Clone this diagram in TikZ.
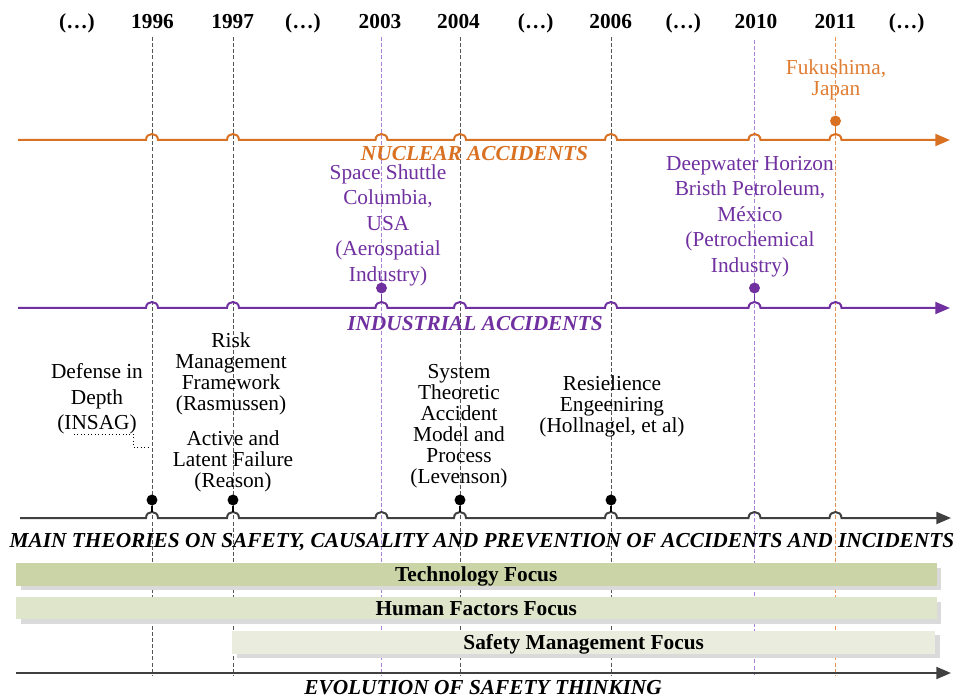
\documentclass[tikz,border=0pt]{standalone}
\usepackage{fontspec}
\setmainfont{Liberation Serif}
\usetikzlibrary{arrows.meta}
\definecolor{orng}{RGB}{217,113,35}
\definecolor{orngt}{RGB}{224,125,50}
\definecolor{orngl}{RGB}{232,145,85}
\definecolor{purp}{RGB}{112,48,160}
\definecolor{purpl}{RGB}{170,130,215}
\definecolor{dgray}{RGB}{64,64,64}
\definecolor{vgray}{RGB}{85,85,85}
\definecolor{barA}{RGB}{202,212,167}
\definecolor{barB}{RGB}{223,229,203}
\definecolor{barC}{RGB}{234,237,221}
\definecolor{shad}{RGB}{218,218,218}
\newcommand{\hp}[2]{-- ({#1-6},#2) .. controls ({#1-6},{#2-8}) and ({#1+6},{#2-8}) .. ({#1+6},#2)}
\tikzset{
  yrlab/.style={font=\fontsize{16}{19}\selectfont\bfseries, anchor=base, inner sep=0pt},
  vline/.style={line width=0.7pt, dash pattern=on 3pt off 1.6pt},
  axisline/.style={line width=1.5pt, -{Triangle[length=11pt,width=9pt]}},
  ttl/.style={font=\fontsize{16}{19}\selectfont\bfseries\itshape, anchor=base, inner sep=0pt},
  txtA/.style={font=\fontsize{16}{15.75}\selectfont, align=center, inner sep=0pt, anchor=center},
  txtB/.style={font=\fontsize{16}{19.1}\selectfont, align=center, inner sep=0pt, anchor=center},
  dotm/.style={circle, inner sep=0pt, minimum size=8.2pt},
  barlab/.style={font=\fontsize{16}{19}\selectfont\bfseries, inner sep=0pt, text height=11pt, text depth=0.8pt},
}
\begin{document}
\begin{tikzpicture}[x=0.75pt,y=-0.75pt]
\useasboundingbox (0,0) rectangle (957,695);
% year labels
\node[yrlab] (e1) at (77,28.5) {(…)};
\node[yrlab] (y96) at (152.5,28.5) {1996};
\node[yrlab] (y97) at (232.7,28.5) {1997};
\node[yrlab] (e2) at (303,28.5) {(…)};
\node[yrlab] (y03) at (380,28.5) {2003};
\node[yrlab] (y04) at (458.5,28.5) {2004};
\node[yrlab] (e3) at (535.7,28.5) {(…)};
\node[yrlab] (y06) at (610.7,28.5) {2006};
\node[yrlab] (e4) at (683.3,28.5) {(…)};
\node[yrlab] (y10) at (756,28.5) {2010};
\node[yrlab] (y11) at (835.3,28.5) {2011};
\node[yrlab] (e5) at (906.7,28.5) {(…)};
% vertical dashed lines
\foreach \n/\x/\t in {96/152/37,97/233/37,03/381.5/37,04/460/37,06/611/37,10/754.5/40,11/835.5/37}{
  \coordinate (t\n) at (\x,\t);
  \coordinate (b\n) at (\x,675);
}
\draw[vline, vgray] (t96) -- (b96);
\draw[vline, vgray] (t97) -- (b97);
\draw[vline, purpl] (t03) -- (b03);
\draw[vline, vgray] (t04) -- (b04);
\draw[vline, vgray] (t06) -- (b06);
\draw[vline, purpl] (t10) -- (b10);
\draw[vline, orngl] (t11) -- (b11);
% nuclear axis
\coordinate (nS) at (18,140);
\coordinate (nE) at (950,140);
\draw[axisline, orng] (nS) \hp{152}{140} \hp{233}{140} \hp{381.5}{140} \hp{460}{140} \hp{611}{140} \hp{754.5}{140} \hp{835.5}{140} -- (nE);
\node[ttl, text=orng] (nuc) at (474.5,161) {NUCLEAR ACCIDENTS};
\node[dotm, fill=orng] (dfuk) at (835.5,121) {};
\coordinate (hfuk) at (835.5,134);
\draw[line width=1pt, orng] (dfuk) -- (hfuk);
\node[txtA, text=orngt] (fuk) at (836,79.5) {Fukushima,\\Japan};
% industrial axis
\coordinate (iS) at (18,308);
\coordinate (iE) at (950,308);
\draw[axisline, purp] (iS) \hp{152}{308} \hp{233}{308} \hp{381.5}{308} \hp{460}{308} \hp{611}{308} \hp{754.5}{308} \hp{835.5}{308} -- (iE);
\node[ttl, text=purp] (ind) at (475,330.5) {INDUSTRIAL ACCIDENTS};
\node[dotm, fill=purp] (dcol) at (381.5,288) {};
\coordinate (hcol) at (381.5,302);
\draw[line width=1pt, purp] (dcol) -- (hcol);
\node[dotm, fill=purp] (ddw) at (754.5,288) {};
\coordinate (hdw) at (754.5,302);
\draw[line width=1pt, purp] (ddw) -- (hdw);
\node[txtB, text=purp] (col) at (388,225) {Space Shuttle\\Columbia,\\USA\\(Aerospatial\\Industry)};
\node[txtB, text=purp] (dw) at (750,216.5) {Deepwater Horizon\\Bristh Petroleum,\\México\\(Petrochemical\\Industry)};
% theories axis
\coordinate (tS) at (20,518);
\coordinate (tE) at (951,518);
\draw[axisline, dgray] (tS) \hp{152}{518} \hp{233}{518} \hp{381.5}{518} \hp{460}{518} \hp{611}{518} \hp{754.5}{518} \hp{835.5}{518} -- (tE);
\node[ttl] (main) at (482,547) {MAIN THEORIES ON SAFETY, CAUSALITY AND PREVENTION OF ACCIDENTS AND INCIDENTS};
\foreach \n/\x in {96/152,97/233,04/460,06/611}{
  \node[dotm, fill=black] (d\n) at (\x,500) {};
  \coordinate (h\n) at (\x,512);
  \draw[line width=1pt, black] (d\n) -- (h\n);
}
\node[txtB] (did) at (97,399) {Defense in\\Depth\\(INSAG)};
\coordinate (dA) at (74,434);
\coordinate (dB) at (150,447);
\draw[dotted, line width=0.6pt] (dA) -- (133,434) |- (dB);
\node[txtA] (rmf) at (231,374) {Risk\\Management\\Framework\\(Rasmussen)};
\node[txtA] (alf) at (233,461) {Active and\\Latent Failure\\(Reason)};
\node[txtA] (stamp) at (459,426.5) {System\\Theoretic\\Accident\\Model and\\Process\\(Levenson)};
\node[txtA] (res) at (612,406) {Resielience\\Engeeniring\\(Hollnagel, et al)};
% bars
\fill[shad] (20.5,567.5) rectangle (941,590);
\node[barlab, fill=barA, minimum width=690.5pt, minimum height=17pt] (tech) at (476.3,574.7) {Technology Focus};
\fill[shad] (20.5,601.5) rectangle (941,623.5);
\node[barlab, fill=barB, minimum width=690.5pt, minimum height=16.5pt] (hum) at (476.3,608.3) {Human Factors Focus};
\fill[shad] (236.5,635) rectangle (939.5,658);
\node[barlab, fill=barC, minimum width=527pt, minimum height=17.2pt] (sm) at (583.7,642.5) {Safety Management Focus};
% evolution axis
\coordinate (eS) at (16,673);
\coordinate (eE) at (951,673);
\draw[axisline, dgray] (eS) -- (eE);
\node[ttl] (evo) at (483,694) {EVOLUTION OF SAFETY THINKING};
\end{tikzpicture}
\end{document}
